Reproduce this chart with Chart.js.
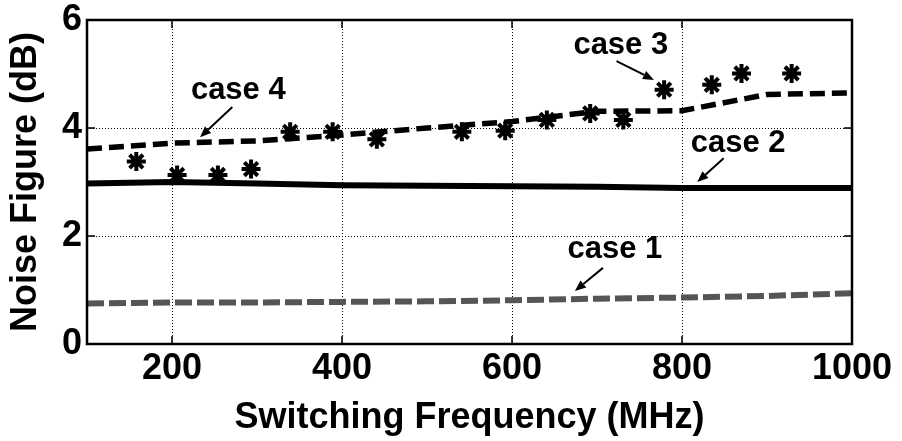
<!DOCTYPE html>
<html>
<head>
<meta charset="utf-8">
<script src="https://cdn.jsdelivr.net/npm/chart.js@4.4.1/dist/chart.umd.min.js"></script>
<style>
  html, body { margin: 0; padding: 0; background: #fff; }
  canvas { display: block; }
</style>
</head>
<body>
<canvas id="nf" width="902" height="441"></canvas>
<script>
// switching frequency grid (MHz) for the simulated curves
var freqs = [100, 200, 300, 400, 500, 600, 700, 800, 900, 1000];
var case1 = [0.75, 0.77, 0.77, 0.78, 0.79, 0.81, 0.84, 0.86, 0.89, 0.94];
var case2 = [2.97, 3.00, 2.97, 2.94, 2.93, 2.92, 2.91, 2.89, 2.89, 2.89];
var case4 = [3.61, 3.72, 3.76, 3.87, 4.00, 4.12, 4.31, 4.32, 4.62, 4.65];

// measured points (case 3)
var case3Freqs = [158, 206, 254, 293, 339, 389, 441, 541, 592, 641, 692, 731, 779, 835, 870, 929];
var case3 = [3.38, 3.13, 3.13, 3.24, 3.93, 3.93, 3.79, 3.93, 3.95, 4.15, 4.27, 4.15, 4.71, 4.80, 5.01, 5.01];

var xTicks = [200, 400, 600, 800, 1000];
var yTicks = [0, 2, 4, 6];

// callouts: label position and arrow, in data units
var callouts = [
	{text: 'case 4', at: [278, 4.70], from: [271, 4.39], to: [233, 3.83]},
	{text: 'case 3', at: [728, 5.52], from: [723, 5.24], to: [767, 4.89]},
	{text: 'case 2', at: [866, 3.72], from: [849, 3.44], to: [818, 3.00]},
	{text: 'case 1', at: [721, 1.76], from: [707, 1.41], to: [674, 0.98]}
];

var FONT = "'Liberation Sans', Arial, sans-serif";

function pts(xs, ys) {
	var out = [];
	for (let i = 0; i < xs.length; i++) out.push({x: xs[i], y: ys[i]});
	return out;
}

var framePlugin = {
	id: 'frame',
	afterDatasetsDraw(chart) {
		var ctx = chart.ctx, a = chart.chartArea;
		var x = chart.scales.x, y = chart.scales.y;
		ctx.save();
		ctx.setLineDash([]);
		ctx.strokeStyle = '#000';
		ctx.lineWidth = 1.5;
		// inward ticks on all four sides
		xTicks.forEach(function(v) {
			var px = x.getPixelForValue(v);
			ctx.beginPath();
			ctx.moveTo(px, a.bottom); ctx.lineTo(px, a.bottom - 8);
			ctx.moveTo(px, a.top); ctx.lineTo(px, a.top + 8);
			ctx.stroke();
		});
		yTicks.forEach(function(v) {
			var py = y.getPixelForValue(v);
			ctx.beginPath();
			ctx.moveTo(a.left, py); ctx.lineTo(a.left + 8, py);
			ctx.moveTo(a.right, py); ctx.lineTo(a.right - 8, py);
			ctx.stroke();
		});
		ctx.lineWidth = 2.5;
		ctx.strokeRect(a.left, a.top, a.right - a.left, a.bottom - a.top);
		ctx.restore();
	},
	afterDraw(chart) {
		var ctx = chart.ctx;
		var x = chart.scales.x, y = chart.scales.y;
		ctx.save();
		ctx.fillStyle = '#000';
		ctx.strokeStyle = '#000';
		ctx.font = 'bold 31px ' + FONT;
		ctx.textAlign = 'center';
		ctx.textBaseline = 'middle';
		callouts.forEach(function(c) {
			ctx.fillText(c.text, x.getPixelForValue(c.at[0]), y.getPixelForValue(c.at[1]));
			var x1 = x.getPixelForValue(c.from[0]), y1 = y.getPixelForValue(c.from[1]);
			var x2 = x.getPixelForValue(c.to[0]), y2 = y.getPixelForValue(c.to[1]);
			var ang = Math.atan2(y2 - y1, x2 - x1);
			var head = 11, half = 4.5;
			var bx = x2 - head * Math.cos(ang), by = y2 - head * Math.sin(ang);
			ctx.lineWidth = 2;
			ctx.beginPath();
			ctx.moveTo(x1, y1); ctx.lineTo(bx, by);
			ctx.stroke();
			ctx.beginPath();
			ctx.moveTo(x2, y2);
			ctx.lineTo(bx + half * Math.sin(ang), by - half * Math.cos(ang));
			ctx.lineTo(bx - half * Math.sin(ang), by + half * Math.cos(ang));
			ctx.closePath();
			ctx.fill();
		});
		ctx.restore();
	}
};

new Chart(document.getElementById('nf'), {
	type: 'line',
	data: {
		datasets: [{
			label: 'case 1',
			data: pts(freqs, case1),
			borderColor: '#555555',
			borderWidth: 6,
			borderDash: [17, 5],
			pointRadius: 0,
			fill: false
		}, {
			label: 'case 2',
			data: pts(freqs, case2),
			borderColor: '#000',
			borderWidth: 6,
			pointRadius: 0,
			fill: false
		}, {
			label: 'case 3',
			data: pts(case3Freqs, case3),
			showLine: false,
			pointStyle: 'star',
			pointRadius: 9.5,
			borderColor: '#000',
			borderWidth: 4,
			backgroundColor: '#000'
		}, {
			label: 'case 4',
			data: pts(freqs, case4),
			borderColor: '#000',
			borderWidth: 5.5,
			borderDash: [15, 7],
			pointRadius: 0,
			fill: false
		}]
	},
	options: {
		responsive: false,
		animation: false,
		layout: {padding: {top: 20, right: 50, left: 0, bottom: 0}},
		plugins: {
			legend: {display: false},
			tooltip: {enabled: false}
		},
		scales: {
			x: {
				type: 'linear',
				min: 100,
				max: 1000,
				afterBuildTicks: function(s) { s.ticks = xTicks.map(function(v) { return {value: v}; }); },
				afterFit: function(s) { s.height = 97; s.paddingLeft = 0; s.paddingRight = 0; },
				grid: {color: '#000', lineWidth: 1, drawTicks: false},
				border: {display: false, dash: [1, 2]},
				ticks: {
					color: '#000',
					padding: 3,
					maxRotation: 0,
					callback: function(v) { return String(v); },
					font: {family: FONT, size: 36, weight: 'bold'}
				},
				title: {
					display: true,
					text: 'Switching Frequency (MHz)',
					color: '#000',
					padding: {top: 0, bottom: 1},
					font: {family: FONT, size: 36, weight: 'bold'}
				}
			},
			y: {
				min: 0,
				max: 6,
				afterBuildTicks: function(s) { s.ticks = yTicks.map(function(v) { return {value: v}; }); },
				afterFit: function(s) { s.width = 87; s.paddingTop = 0; s.paddingBottom = 0; },
				grid: {color: '#000', lineWidth: 1, drawTicks: false},
				border: {display: false, dash: [1, 2]},
				ticks: {
					color: '#000',
					padding: 5,
					callback: function(v) { return String(v); },
					font: {family: FONT, size: 36, weight: 'bold'}
				},
				title: {
					display: true,
					text: 'Noise Figure (dB)',
					color: '#000',
					padding: {top: 4, bottom: 0},
					font: {family: FONT, size: 36, weight: 'bold'}
				}
			}
		}
	},
	plugins: [framePlugin]
});
</script>
</body>
</html>
